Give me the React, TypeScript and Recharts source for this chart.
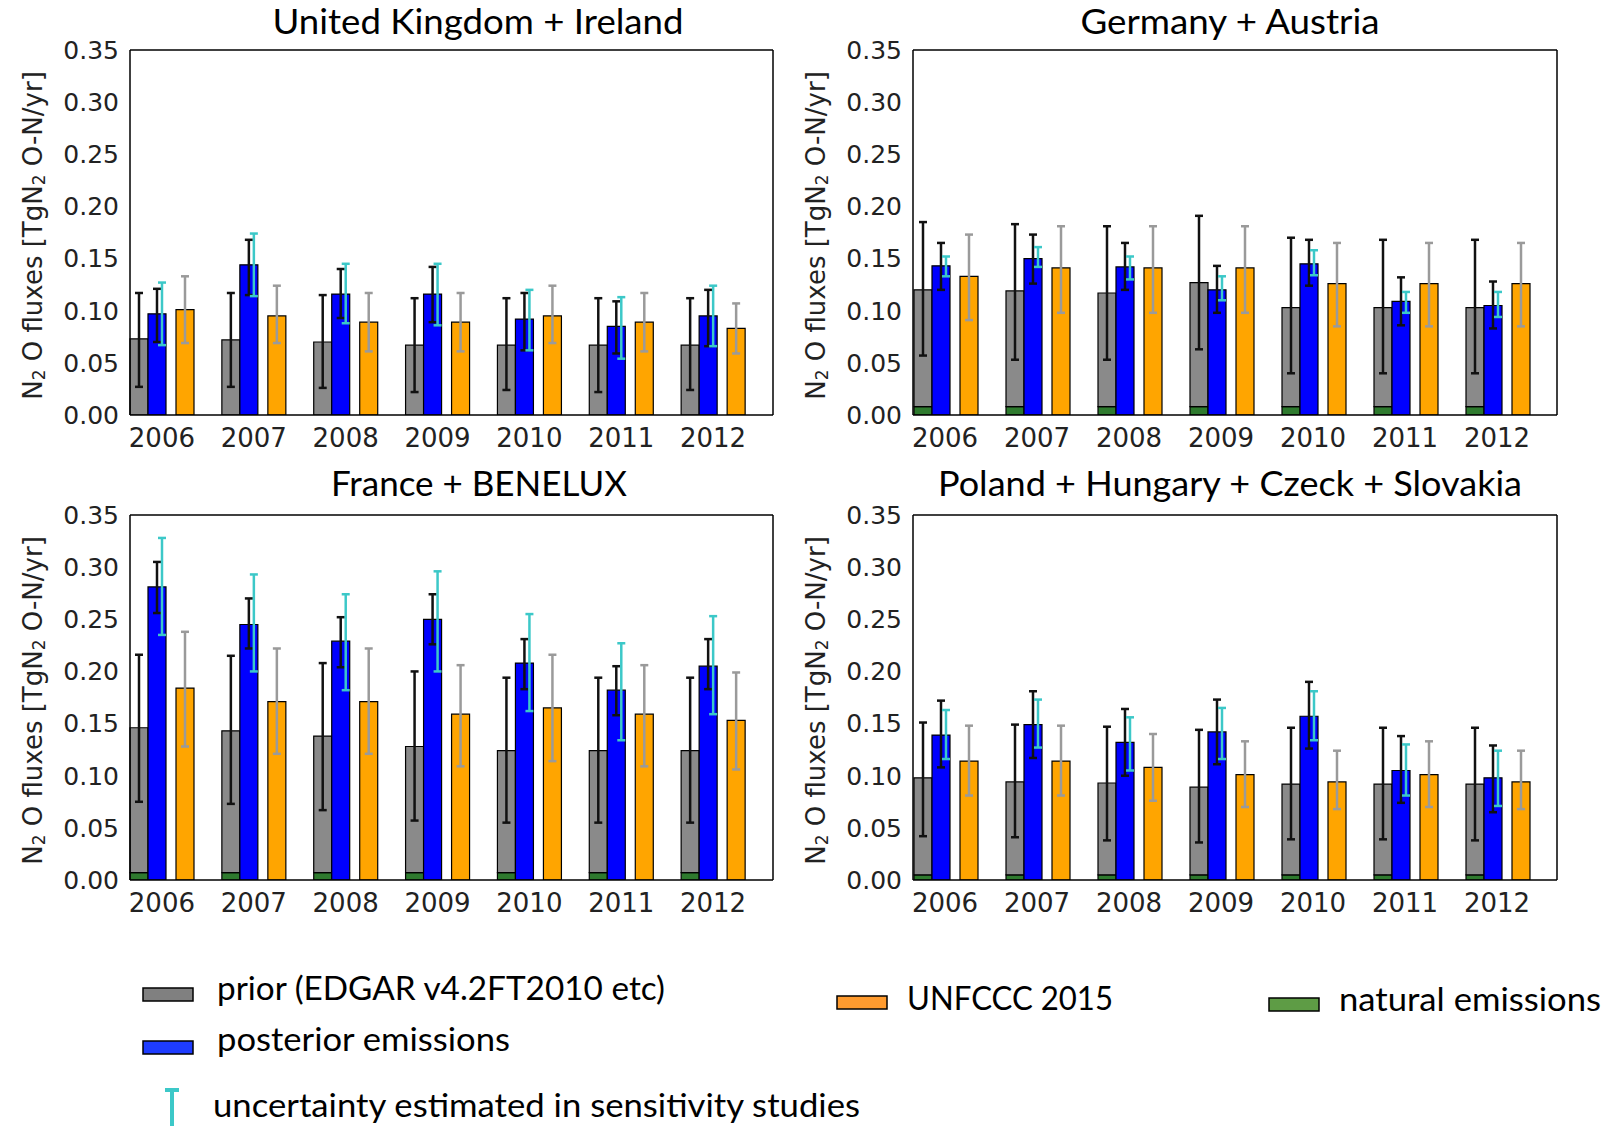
import React from "react";
import { BarChart, Bar, XAxis, YAxis, ErrorBar } from "recharts";

// N2O fluxes (TgN2O-N/yr) per region, 2006-2012
const YEARS = ["2006", "2007", "2008", "2009", "2010", "2011", "2012"];
const Y_TICKS = [0, 0.05, 0.1, 0.15, 0.2, 0.25, 0.3, 0.35];
const TOP_TICKS = [1, 2, 3, 4, 5, 6];

// United Kingdom + Ireland
const UK_NATURAL = [0, 0, 0, 0, 0, 0, 0];
const UK_PRIOR = [0.073, 0.072, 0.07, 0.067, 0.067, 0.067, 0.067];
const UK_PRIOR_LO = [0.027, 0.027, 0.026, 0.022, 0.024, 0.022, 0.024];
const UK_PRIOR_HI = [0.117, 0.117, 0.115, 0.112, 0.112, 0.112, 0.112];
const UK_POST = [0.097, 0.144, 0.116, 0.116, 0.092, 0.085, 0.095];
const UK_POST_LO = [0.07, 0.115, 0.093, 0.089, 0.062, 0.059, 0.066];
const UK_POST_HI = [0.121, 0.168, 0.14, 0.142, 0.117, 0.109, 0.12];
const UK_SENS_LO = [0.067, 0.114, 0.088, 0.086, 0.062, 0.054, 0.066];
const UK_SENS_HI = [0.127, 0.174, 0.145, 0.145, 0.12, 0.113, 0.124];
const UK_UNFCCC = [0.101, 0.095, 0.089, 0.089, 0.095, 0.089, 0.083];
const UK_UNFCCC_LO = [0.069, 0.069, 0.061, 0.061, 0.069, 0.061, 0.059];
const UK_UNFCCC_HI = [0.133, 0.124, 0.117, 0.117, 0.124, 0.117, 0.107];

// Germany + Austria
const DE_NATURAL = [0.008, 0.008, 0.008, 0.008, 0.008, 0.008, 0.008];
const DE_PRIOR = [0.12, 0.119, 0.117, 0.127, 0.103, 0.103, 0.103];
const DE_PRIOR_LO = [0.057, 0.053, 0.053, 0.063, 0.04, 0.04, 0.04];
const DE_PRIOR_HI = [0.185, 0.183, 0.181, 0.191, 0.17, 0.168, 0.168];
const DE_POST = [0.143, 0.15, 0.142, 0.12, 0.145, 0.109, 0.105];
const DE_POST_LO = [0.12, 0.126, 0.12, 0.098, 0.124, 0.086, 0.083];
const DE_POST_HI = [0.165, 0.173, 0.165, 0.143, 0.168, 0.132, 0.128];
const DE_SENS_LO = [0.133, 0.142, 0.13, 0.11, 0.134, 0.098, 0.094];
const DE_SENS_HI = [0.152, 0.161, 0.152, 0.133, 0.158, 0.118, 0.118];
const DE_UNFCCC = [0.133, 0.141, 0.141, 0.141, 0.126, 0.126, 0.126];
const DE_UNFCCC_LO = [0.091, 0.098, 0.098, 0.098, 0.085, 0.085, 0.085];
const DE_UNFCCC_HI = [0.173, 0.181, 0.181, 0.181, 0.165, 0.165, 0.165];

// France + BENELUX
const FR_NATURAL = [0.007, 0.007, 0.007, 0.007, 0.007, 0.007, 0.007];
const FR_PRIOR = [0.146, 0.143, 0.138, 0.128, 0.124, 0.124, 0.124];
const FR_PRIOR_LO = [0.075, 0.073, 0.067, 0.057, 0.055, 0.055, 0.055];
const FR_PRIOR_HI = [0.216, 0.215, 0.208, 0.2, 0.194, 0.194, 0.194];
const FR_POST = [0.281, 0.245, 0.229, 0.25, 0.208, 0.182, 0.205];
const FR_POST_LO = [0.256, 0.222, 0.204, 0.226, 0.183, 0.158, 0.183];
const FR_POST_HI = [0.305, 0.27, 0.252, 0.274, 0.231, 0.205, 0.231];
const FR_SENS_LO = [0.235, 0.2, 0.182, 0.2, 0.162, 0.134, 0.159];
const FR_SENS_HI = [0.328, 0.293, 0.274, 0.296, 0.255, 0.227, 0.253];
const FR_UNFCCC = [0.184, 0.171, 0.171, 0.159, 0.165, 0.159, 0.153];
const FR_UNFCCC_LO = [0.128, 0.121, 0.121, 0.109, 0.114, 0.109, 0.106];
const FR_UNFCCC_HI = [0.238, 0.222, 0.222, 0.206, 0.216, 0.206, 0.199];

// Poland + Hungary + Czeck + Slovakia
const PL_NATURAL = [0.005, 0.005, 0.005, 0.005, 0.005, 0.005, 0.005];
const PL_PRIOR = [0.098, 0.094, 0.093, 0.089, 0.092, 0.092, 0.092];
const PL_PRIOR_LO = [0.042, 0.041, 0.038, 0.036, 0.039, 0.039, 0.038];
const PL_PRIOR_HI = [0.151, 0.149, 0.147, 0.144, 0.146, 0.146, 0.146];
const PL_POST = [0.139, 0.149, 0.132, 0.142, 0.157, 0.105, 0.098];
const PL_POST_LO = [0.108, 0.117, 0.1, 0.111, 0.126, 0.074, 0.065];
const PL_POST_HI = [0.172, 0.181, 0.164, 0.173, 0.19, 0.138, 0.129];
const PL_SENS_LO = [0.116, 0.127, 0.105, 0.116, 0.134, 0.081, 0.071];
const PL_SENS_HI = [0.163, 0.173, 0.156, 0.165, 0.181, 0.13, 0.124];
const PL_UNFCCC = [0.114, 0.114, 0.108, 0.101, 0.094, 0.101, 0.094];
const PL_UNFCCC_LO = [0.081, 0.081, 0.076, 0.07, 0.068, 0.07, 0.068];
const PL_UNFCCC_HI = [0.148, 0.148, 0.14, 0.133, 0.124, 0.133, 0.124];

const C = {
  natural: "#2e7a2e",
  prior: "#8a8a8a",
  post: "#0000ff",
  unfccc: "#ffa500",
  sens: "#3cc8c8",
  unfErr: "#9a9a9a",
};

function buildRows(
  natural: number[], prior: number[], priorLo: number[], priorHi: number[],
  post: number[], postLo: number[], postHi: number[],
  sensLo: number[], sensHi: number[],
  unf: number[], unfLo: number[], unfHi: number[],
) {
  return YEARS.map((year, i) => ({
    year,
    natural: natural[i],
    priorRest: prior[i] - natural[i],
    priorErr: [prior[i] - priorLo[i], priorHi[i] - prior[i]],
    post: post[i],
    postErr: [post[i] - postLo[i], postHi[i] - post[i]],
    sens: post[i],
    sensErr: [post[i] - sensLo[i], sensHi[i] - post[i]],
    unfccc: unf[i],
    unfErr: [unf[i] - unfLo[i], unfHi[i] - unf[i]],
    gap1: 0,
    gap2: 0,
    gapA: 0,
    gapB: 0,
  }));
}

const UK_ROWS = buildRows(UK_NATURAL, UK_PRIOR, UK_PRIOR_LO, UK_PRIOR_HI, UK_POST, UK_POST_LO, UK_POST_HI, UK_SENS_LO, UK_SENS_HI, UK_UNFCCC, UK_UNFCCC_LO, UK_UNFCCC_HI);
const DE_ROWS = buildRows(DE_NATURAL, DE_PRIOR, DE_PRIOR_LO, DE_PRIOR_HI, DE_POST, DE_POST_LO, DE_POST_HI, DE_SENS_LO, DE_SENS_HI, DE_UNFCCC, DE_UNFCCC_LO, DE_UNFCCC_HI);
const FR_ROWS = buildRows(FR_NATURAL, FR_PRIOR, FR_PRIOR_LO, FR_PRIOR_HI, FR_POST, FR_POST_LO, FR_POST_HI, FR_SENS_LO, FR_SENS_HI, FR_UNFCCC, FR_UNFCCC_LO, FR_UNFCCC_HI);
const PL_ROWS = buildRows(PL_NATURAL, PL_PRIOR, PL_PRIOR_LO, PL_PRIOR_HI, PL_POST, PL_POST_LO, PL_POST_HI, PL_SENS_LO, PL_SENS_HI, PL_UNFCCC, PL_UNFCCC_LO, PL_UNFCCC_HI);

const TICK_FONT = "DejaVu Sans";
const TEXT_FONT = "Lato";

function YearTick(props: any) {
  const { x, y, payload } = props;
  return (
    <text x={x - 14} y={y + 24} textAnchor="middle" fontSize={26} fontFamily={TICK_FONT} fill="#222">
      {payload.value}
    </text>
  );
}

function AxisTitle(props: any) {
  const vb = props.viewBox || { x: 0, y: 50, width: 130, height: 365 };
  const cx = vb.x + 33;
  const cy = vb.y + vb.height / 2 + 3;
  return (
    <text
      x={cx}
      y={cy}
      transform={`rotate(-90 ${cx} ${cy})`}
      textAnchor="middle"
      dominantBaseline="central"
      fontFamily={TICK_FONT}
      fontSize={26}
      fill="#222"
    >
      N<tspan fontSize={17} dy={6}>2</tspan>
      <tspan dy={-6}> O fluxes [TgN</tspan>
      <tspan fontSize={17} dy={6}>2</tspan>
      <tspan dy={-6}> O-N/yr]</tspan>
    </text>
  );
}

function Panel({ rows, left, top, right }: { rows: any[]; left: number; top: number; right: number }) {
  const edge = { stroke: "#000", strokeWidth: 1.2 };
  return (
    <div style={{ position: "absolute", left, top }}>
      <BarChart
        width={800}
        height={460}
        data={rows}
        margin={{ top: 50, right, bottom: 0, left: 0 }}
        barGap={0}
      >
        <XAxis
          xAxisId="main"
          dataKey="year"
          height={45}
          axisLine={{ stroke: "#000", strokeWidth: 1.5 }}
          tickLine={false}
          tick={<YearTick />}
          interval={0}
        />
        <XAxis xAxisId="sens" dataKey="year" hide />
        <XAxis
          xAxisId="top"
          type="number"
          orientation="top"
          domain={[0, 7]}
          ticks={TOP_TICKS}
          allowDataOverflow
          mirror
          tick={false}
          tickSize={6}
          tickLine={{ stroke: "#000" }}
          axisLine={{ stroke: "#000", strokeWidth: 1.5 }}
        />
        <YAxis
          domain={[0, 0.35]}
          ticks={Y_TICKS}
          allowDataOverflow
          width={130}
          tickFormatter={(v: number) => v.toFixed(2)}
          tick={{ fontSize: 25, fontFamily: TICK_FONT, fill: "#222" }}
          tickLine={false}
          tickSize={6}
          tickMargin={5}
          axisLine={{ stroke: "#000", strokeWidth: 1.5 }}
          label={AxisTitle}
        />
        <YAxis
          yAxisId="lt"
          domain={[0, 0.35]}
          ticks={Y_TICKS}
          allowDataOverflow
          mirror
          tick={false}
          tickSize={6}
          tickLine={{ stroke: "#000" }}
          axisLine={false}
        />
        <YAxis
          yAxisId="rt"
          orientation="right"
          domain={[0, 0.35]}
          ticks={Y_TICKS}
          allowDataOverflow
          mirror
          tick={false}
          tickSize={6}
          tickLine={{ stroke: "#000" }}
          axisLine={{ stroke: "#000", strokeWidth: 1.5 }}
        />

        <Bar xAxisId="main" dataKey="natural" stackId="prior" barSize={18} fill={C.natural} {...edge} isAnimationActive={false} />
        <Bar xAxisId="main" dataKey="priorRest" stackId="prior" barSize={18} fill={C.prior} {...edge} isAnimationActive={false}>
          <ErrorBar dataKey="priorErr" width={4} stroke="#111" strokeWidth={2.5} isAnimationActive={false} />
        </Bar>
        <Bar xAxisId="main" dataKey="post" barSize={18} fill={C.post} {...edge} isAnimationActive={false}>
          <ErrorBar dataKey="postErr" width={4} stroke="#111" strokeWidth={2.5} isAnimationActive={false} />
        </Bar>
        <Bar xAxisId="main" dataKey="gap1" barSize={10} fill="none" isAnimationActive={false} />
        <Bar xAxisId="main" dataKey="unfccc" barSize={18} fill={C.unfccc} {...edge} isAnimationActive={false}>
          <ErrorBar dataKey="unfErr" width={4} stroke={C.unfErr} strokeWidth={2.5} isAnimationActive={false} />
        </Bar>
        <Bar xAxisId="main" dataKey="gap2" barSize={27} fill="none" isAnimationActive={false} />

        <Bar xAxisId="sens" dataKey="gapA" barSize={28} fill="none" isAnimationActive={false} />
        <Bar xAxisId="sens" dataKey="sens" barSize={8} fill="none" stroke="none" isAnimationActive={false}>
          <ErrorBar dataKey="sensErr" width={4} stroke={C.sens} strokeWidth={2.5} isAnimationActive={false} />
        </Bar>
        <Bar xAxisId="sens" dataKey="gapB" barSize={55} fill="none" isAnimationActive={false} />
      </BarChart>
    </div>
  );
}

const TITLES = [
  { text: "United Kingdom + Ireland", x: 478, y: 34, w: 411 },
  { text: "Germany + Austria", x: 1230, y: 34, w: 299 },
  { text: "France + BENELUX", x: 479, y: 496, w: 296 },
  { text: "Poland + Hungary + Czeck + Slovakia", x: 1230, y: 496, w: 584 },
];

const LEGEND_PATCHES = [
  { label: "prior (EDGAR v4.2FT2010 etc)", fill: "#808080", x: 143, y: 988, tx: 217, ty: 1000, tw: 448 },
  { label: "posterior emissions", fill: "#1e3cff", x: 143, y: 1041, tx: 217, ty: 1051, tw: 293 },
  { label: "UNFCCC 2015", fill: "#ff9b2f", x: 837, y: 996, tx: 907, ty: 1010, tw: 206 },
  { label: "natural emissions", fill: "#5e9c45", x: 1269, y: 998, tx: 1339, ty: 1011, tw: 262 },
];

export default function App() {
  return (
    <div
      style={{
        position: "absolute",
        left: 0,
        top: 0,
        width: 1609,
        height: 1126,
        background: "#fff",
        overflow: "hidden",
        fontFamily: TEXT_FONT,
      }}
    >
      <Panel rows={UK_ROWS} left={0} top={0} right={27} />
      <Panel rows={DE_ROWS} left={783} top={0} right={26} />
      <Panel rows={FR_ROWS} left={0} top={465} right={27} />
      <Panel rows={PL_ROWS} left={783} top={465} right={26} />

      <svg width={1609} height={1126} style={{ position: "absolute", left: 0, top: 0, pointerEvents: "none" }}>
        {TITLES.map((t) => (
          <text
            key={t.text}
            x={t.x}
            y={t.y}
            textAnchor="middle"
            fontFamily={TEXT_FONT}
            fontSize={34}
            fill="#000"
            textLength={t.w}
            lengthAdjust="spacingAndGlyphs"
          >
            {t.text}
          </text>
        ))}
        {LEGEND_PATCHES.map((p) => (
          <g key={p.label}>
            <rect x={p.x} y={p.y} width={50} height={13} fill={p.fill} stroke="#000" strokeWidth={1.5} />
            <text
              x={p.tx}
              y={p.ty}
              fontFamily={TEXT_FONT}
              fontSize={32}
              fill="#000"
              textLength={p.tw}
              lengthAdjust="spacingAndGlyphs"
            >
              {p.label}
            </text>
          </g>
        ))}
        <line x1={172} y1={1089} x2={172} y2={1126} stroke={C.sens} strokeWidth={4} />
        <line x1={165} y1={1090} x2={179} y2={1090} stroke={C.sens} strokeWidth={4} />
        <text
          x={213}
          y={1117}
          fontFamily={TEXT_FONT}
          fontSize={32}
          fill="#000"
          textLength={647}
          lengthAdjust="spacingAndGlyphs"
        >
          uncertainty estimated in sensitivity studies
        </text>
      </svg>
    </div>
  );
}
